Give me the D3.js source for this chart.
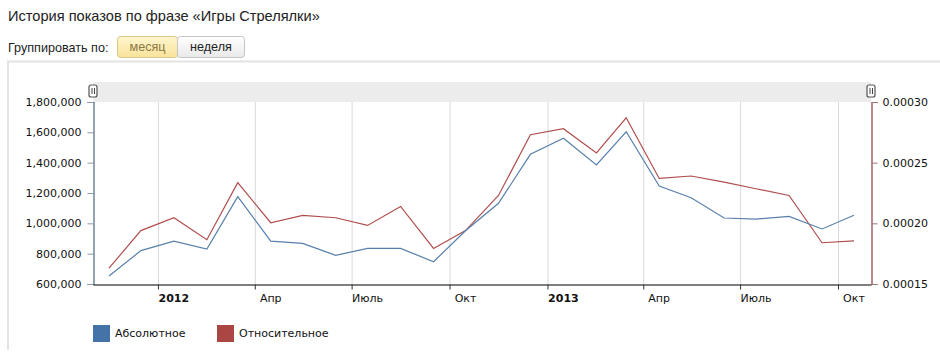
<!DOCTYPE html>
<html>
<head>
<meta charset="utf-8">
<script src="https://d3js.org/d3.v7.min.js"></script>
<style>
  html, body { margin: 0; padding: 0; background: #fff; }
  svg { display: block; }
</style>
</head>
<body>
<svg id="chart" width="940" height="357"></svg>
<script>
// ---- data ----
const titleText = "История показов по фразе «Игры Стрелялки»";
const groupLabel = "Группировать по:";
const groupButtons = ["месяц", "неделя"];
const months = ["2011-11","2011-12","2012-01","2012-02","2012-03","2012-04","2012-05","2012-06",
                "2012-07","2012-08","2012-09","2012-10","2012-11","2012-12","2013-01","2013-02",
                "2013-03","2013-04","2013-05","2013-06","2013-07","2013-08","2013-09","2013-10"];
const absoluteValues = [653000, 820000, 883000, 831000, 1176000, 883000, 868000, 789000,
                        835000, 835000, 747000, 951000, 1132000, 1455000, 1561000, 1385000,
                        1604000, 1246000, 1169000, 1035000, 1028000, 1046000, 963000, 1053000];
const relativeValues = [0.000163, 0.000194, 0.0002046, 0.0001865, 0.0002335, 0.0002005, 0.0002065, 0.0002046,
                        0.0001983, 0.0002139, 0.0001793, 0.000194, 0.000223, 0.000273, 0.000278, 0.000258,
                        0.000287, 0.000237, 0.000239, 0.000234, 0.0002285, 0.000223, 0.000184, 0.0001856];
const xTickMonths = ["2012-01","2012-04","2012-07","2012-10","2013-01","2013-04","2013-07","2013-10"];
const xTickLabels = ["2012","Апр","Июль","Окт","2013","Апр","Июль","Окт"];
const leftTicks = [600000, 800000, 1000000, 1200000, 1400000, 1600000, 1800000];
const rightTicks = [0.00015, 0.00020, 0.00025, 0.00030];
const seriesNames = ["Абсолютное", "Относительное"];
const seriesColors = ["#4572a7", "#aa4643"];

// ---- layout ----
const svg = d3.select("#chart");
const parseMonth = d3.timeParse("%Y-%m");
const mid = s => d3.timeDay.offset(parseMonth(s), 15);
const pL = 93, pR = 871, pT = 102, pB = 284;
const font = "'DejaVu Sans', Verdana, sans-serif";
const uiFont = "'Liberation Sans', Arial, sans-serif";

const x = d3.scaleTime()
  .domain([parseMonth("2011-11"), parseMonth("2013-11")])
  .range([pL, pR]);
const yL = d3.scaleLinear().domain([600000, 1800000]).range([pB, pT]);
const yR = d3.scaleLinear().domain([0.00015, 0.00030]).range([pB, pT]);

// title & controls
svg.append("text").attr("x", 8).attr("y", 21).text(titleText)
  .attr("font-family", uiFont).attr("font-size", 14.6).attr("fill", "#222");
svg.append("text").attr("x", 8).attr("y", 52).text(groupLabel)
  .attr("font-family", uiFont).attr("font-size", 12.6).attr("fill", "#222");

const defs = svg.append("defs");
const gy = defs.append("linearGradient").attr("id", "gy").attr("x1", 0).attr("y1", 0).attr("x2", 0).attr("y2", 1);
gy.append("stop").attr("offset", "0%").attr("stop-color", "#fff6cf");
gy.append("stop").attr("offset", "100%").attr("stop-color", "#f9e39a");
const gw = defs.append("linearGradient").attr("id", "gw").attr("x1", 0).attr("y1", 0).attr("x2", 0).attr("y2", 1);
gw.append("stop").attr("offset", "0%").attr("stop-color", "#ffffff");
gw.append("stop").attr("offset", "100%").attr("stop-color", "#e9e9e9");

const btnX = [117.5, 177.5], btnW = [60, 67];
groupButtons.forEach((b, i) => {
  svg.append("rect").attr("x", btnX[i]).attr("y", 36.5).attr("width", btnW[i]).attr("height", 21)
    .attr("rx", 3).attr("fill", i === 0 ? "url(#gy)" : "url(#gw)")
    .attr("stroke", i === 0 ? "#d8c98a" : "#c4c4c4");
  svg.append("text").attr("x", btnX[i] + btnW[i] / 2).attr("y", 51).attr("text-anchor", "middle")
    .text(b).attr("font-family", uiFont).attr("font-size", 12.6)
    .attr("fill", i === 0 ? "#8a7845" : "#222");
});

// frame
svg.append("line").attr("x1", 7).attr("x2", 940).attr("y1", 61.5).attr("y2", 61.5)
  .attr("stroke", "#e3e3e3").attr("stroke-width", 2);
svg.append("line").attr("x1", 8).attr("x2", 8).attr("y1", 61).attr("y2", 350)
  .attr("stroke", "#e3e3e3").attr("stroke-width", 2);

// scroller band
svg.append("rect").attr("x", pL).attr("y", 82).attr("width", pR - pL).attr("height", pT - 82)
  .attr("fill", "#ececec");

// grid
svg.append("g").selectAll("line").data(xTickMonths).join("line")
  .attr("x1", d => x(parseMonth(d)) + 0.5).attr("x2", d => x(parseMonth(d)) + 0.5)
  .attr("y1", pT).attr("y2", pB)
  .attr("stroke", "#d9d9d9").attr("stroke-width", 1);

// left axis
const gL = svg.append("g").attr("transform", `translate(${pL + 0.5},0)`)
  .call(d3.axisLeft(yL).tickValues(leftTicks).tickFormat(d3.format(",")).tickSize(6).tickPadding(6));
gL.select(".domain").attr("stroke", "#4d6580").attr("stroke-width", 1.2);
gL.selectAll(".tick line").attr("stroke", "#8a99aa");
gL.selectAll("text").attr("font-family", font).attr("font-size", 11).attr("fill", "#111");

// right axis
const gR = svg.append("g").attr("transform", `translate(${pR + 0.5},0)`)
  .call(d3.axisRight(yR).tickValues(rightTicks).tickFormat(d3.format(".5f")).tickSize(6).tickPadding(5));
gR.select(".domain").attr("stroke", "#8e3b3b").attr("stroke-width", 1.2);
gR.selectAll(".tick line").attr("stroke", "#a07070");
gR.selectAll("text").attr("font-family", font).attr("font-size", 11).attr("fill", "#111");

// bottom axis
const gB = svg.append("g").attr("transform", `translate(0,${pB + 0.5})`)
  .call(d3.axisBottom(x).tickValues(xTickMonths.map(parseMonth)).tickFormat("").tickSize(5).tickSizeOuter(0));
gB.select(".domain").attr("stroke", "#000").attr("stroke-width", 1.2);
gB.selectAll(".tick line").attr("stroke", "#333");
svg.append("g").selectAll("text").data(xTickMonths).join("text")
  .attr("x", d => x(mid(d))).attr("y", 302).attr("text-anchor", "middle")
  .text((d, i) => xTickLabels[i])
  .attr("font-family", font).attr("font-size", 11).attr("fill", "#111")
  .attr("font-weight", (d, i) => /^\d+$/.test(xTickLabels[i]) ? "bold" : "normal");

// lines
const absData = months.map((m, i) => ({ d: mid(m), v: absoluteValues[i] }));
const relData = months.map((m, i) => ({ d: mid(m), v: relativeValues[i] }));
svg.append("path").datum(relData)
  .attr("d", d3.line().x(p => x(p.d)).y(p => yR(p.v)))
  .attr("fill", "none").attr("stroke", "#b04e4e").attr("stroke-width", 1.2);
svg.append("path").datum(absData)
  .attr("d", d3.line().x(p => x(p.d)).y(p => yL(p.v)))
  .attr("fill", "none").attr("stroke", "#5880aa").attr("stroke-width", 1.2);

// scroller handles
[pL, pR].forEach(hx => {
  const g = svg.append("g");
  g.append("rect").attr("x", hx - 4).attr("y", 85).attr("width", 8).attr("height", 12).attr("rx", 2)
    .attr("fill", "#fff").attr("stroke", "#555").attr("stroke-width", 1.2);
  g.append("line").attr("x1", hx - 1).attr("x2", hx - 1).attr("y1", 88).attr("y2", 94).attr("stroke", "#444");
  g.append("line").attr("x1", hx + 1.5).attr("x2", hx + 1.5).attr("y1", 88).attr("y2", 94).attr("stroke", "#444");
});

// legend
const legX = [93, 217];
seriesNames.forEach((n, i) => {
  svg.append("rect").attr("x", legX[i]).attr("y", 325).attr("width", 17).attr("height", 17)
    .attr("fill", seriesColors[i]);
  svg.append("text").attr("x", legX[i] + 22).attr("y", 337).text(n)
    .attr("font-family", font).attr("font-size", 11).attr("fill", "#111");
});
</script>
</body>
</html>
